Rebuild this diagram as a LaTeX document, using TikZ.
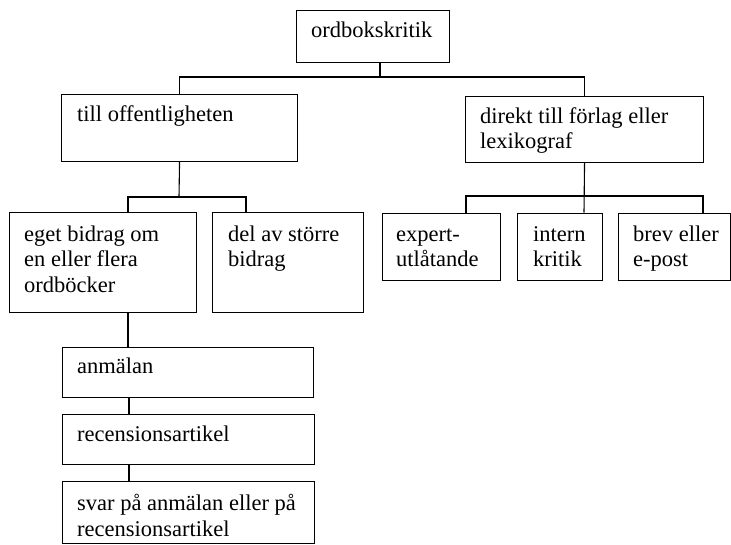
\documentclass[tikz,border=0pt]{standalone}
\usepackage{fontspec}
\setmainfont{Liberation Serif}
\begin{document}
\begin{tikzpicture}[x=1pt,y=-1pt,
  box/.style={draw, line width=1.1pt, rectangle, inner sep=0pt, anchor=north west},
  txt/.style={anchor=base west, inner sep=0pt, align=left, font=\fontsize{22.5}{25.5}\selectfont},
  conn/.style={line width=1.1pt}]
\useasboundingbox (0,0) rectangle (731,544);
% boxes
\node[box, minimum width=153pt, minimum height=52pt] (top) at (296,10) {};
\node[box, minimum width=236pt, minimum height=67pt] (off) at (61,94) {};
\node[box, minimum width=238pt, minimum height=66pt] (dir) at (465,96) {};
\node[box, minimum width=187pt, minimum height=100pt] (eget) at (9,212) {};
\node[box, minimum width=151pt, minimum height=100pt] (del) at (212,212) {};
\node[box, minimum width=118pt, minimum height=67pt] (exp) at (382,212.5) {};
\node[box, minimum width=85pt, minimum height=67pt] (int) at (517,212.5) {};
\node[box, minimum width=112pt, minimum height=67pt] (brev) at (618,212.5) {};
\node[box, minimum width=251pt, minimum height=50pt] (anm) at (62,347) {};
\node[box, minimum width=252pt, minimum height=50pt] (rec) at (62,414) {};
\node[box, minimum width=252pt, minimum height=62pt] (svar) at (62,481) {};
% texts (anchor = baseline of the last line)
\node[txt] (top-t) at (311,37) {ordbokskritik};
\node[txt] (off-t) at (77,121) {till offentligheten};
\node[txt] (dir-t) at (480,148.5) {direkt till förlag eller\\lexikograf};
\node[txt] (eget-t) at (24,292) {eget bidrag om\\en eller flera\\ordböcker};
\node[txt] (del-t) at (228,266.5) {del av större\\bidrag};
\node[txt] (exp-t) at (396,266.5) {expert-\\utlåtande};
\node[txt] (int-t) at (533,266.5) {intern\\kritik};
\node[txt] (brev-t) at (633,266.5) {brev eller\\e-post};
\node[txt] (anm-t) at (77,373) {anmälan};
\node[txt] (rec-t) at (77,441) {recensionsartikel};
\node[txt] (svar-t) at (77,536) {svar på anmälan eller på\\recensionsartikel};
% junctions
\coordinate (j0) at (380,77);
\coordinate (j1) at (179,197);
\coordinate (l1) at (128,197);
\coordinate (l2) at (246,197);
\coordinate (k1) at (584,196);
\coordinate (r1) at (466,196);
\coordinate (r3) at (703,196);
\coordinate (v1) at (128,330);
\coordinate (v2) at (129,400);
% connectors
\draw[conn] (top.south -| j0) -- (j0);
\draw[conn] (off.north) |- (j0) -| (dir.north);
\draw[conn] (off.south) -- (j1);
\draw[conn] (eget.north -| l1) -- (l1) -- (l2) -- (del.north -| l2);
\draw[conn] (dir.south) -- (int.north -| k1);
\draw[conn] (exp.north -| r1) -- (r1) -- (r3) -- (brev.north -| r3);
\draw[conn] (eget.south -| v1) -- (anm.north -| v1);
\draw[conn] (anm.south -| v2) -- (rec.north -| v2);
\draw[conn] (rec.south -| v2) -- (svar.north -| v2);
\end{tikzpicture}
\end{document}
